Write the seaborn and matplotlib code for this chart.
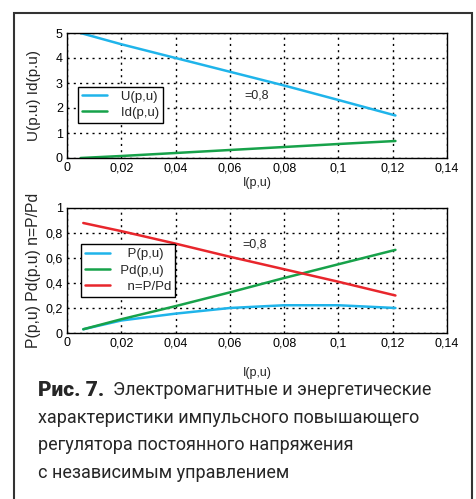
import numpy as np
import pandas as pd
import matplotlib
matplotlib.use("Agg")
import matplotlib.pyplot as plt
import seaborn as sns
from matplotlib.patches import Rectangle

# top chart
i_top = [0.005, 0.02, 0.04, 0.06, 0.08, 0.1, 0.121]
u_vals = [5.0, 4.55, 4.0, 3.45, 2.9, 2.32, 1.7]
id_vals = [0.0, 0.08, 0.2, 0.32, 0.44, 0.56, 0.68]

# bottom chart
i_bot = [0.006, 0.02, 0.04, 0.06, 0.08, 0.1, 0.121]
p_vals = [0.03, 0.1, 0.155, 0.2, 0.222, 0.222, 0.2]
pd_vals = [0.03, 0.11, 0.215, 0.325, 0.44, 0.55, 0.665]
n_vals = [0.88, 0.815, 0.715, 0.61, 0.51, 0.41, 0.3]

x_ticks = [0, 0.02, 0.04, 0.06, 0.08, 0.1, 0.12, 0.14]
x_labels = ["0", "0,02", "0,04", "0,06", "0,08", "0,1", "0,12", "0,14"]
y_top_ticks = [0, 1, 2, 3, 4, 5]
y_top_labels = ["0", "1", "2", "3", "4", "5"]
y_bot_ticks = [0, 0.2, 0.4, 0.6, 0.8, 1.0]
y_bot_labels = ["0", "0,2", "0,4", "0,6", "0,8", "1"]

caption_lines = [
    "Электромагнитные и энергетические",
    "характеристики импульсного повышающего",
    "регулятора постоянного напряжения",
    "с независимым управлением",
]

blue = "#1fb4ea"
green = "#17a24a"
red = "#e8262c"

sns.set_style("white")
plt.rcParams["font.family"] = ["Liberation Sans", "DejaVu Sans"]

fig = plt.figure(figsize=(4.77, 4.99), dpi=100)
fig.patches.append(Rectangle((14 / 477, -0.01), 458 / 477, 1 - 13 / 499 + 0.01,
                             transform=fig.transFigure, fill=False,
                             edgecolor="#333333", linewidth=1.5))

ax1 = fig.add_axes([67 / 477, 1 - 158 / 499, 380 / 477, 125 / 499])
ax2 = fig.add_axes([67 / 477, 1 - 333 / 499, 380 / 477, 125 / 499])

sns.lineplot(x=i_top, y=u_vals, ax=ax1, color=blue, lw=1.8, label="   U(p,u)")
sns.lineplot(x=i_top, y=id_vals, ax=ax1, color=green, lw=1.8, label="   Id(p,u)")

sns.lineplot(x=i_bot, y=p_vals, ax=ax2, color=blue, lw=1.8, label="    P(p,u)")
sns.lineplot(x=i_bot, y=pd_vals, ax=ax2, color=green, lw=1.8, label="  Pd(p,u)")
sns.lineplot(x=i_bot, y=n_vals, ax=ax2, color=red, lw=1.8, label="    n=P/Pd")

for ax, yt, yl in [(ax1, y_top_ticks, y_top_labels), (ax2, y_bot_ticks, y_bot_labels)]:
    ax.set_xlim(0, 0.14)
    ax.set_ylim(yt[0], yt[-1])
    ax.set_xticks(x_ticks)
    ax.set_xticklabels(x_labels)
    ax.set_yticks(yt)
    ax.set_yticklabels(yl)
    ax.grid(True, color="black", linestyle=(0, (1.5, 3)), linewidth=1)
    ax.tick_params(direction="in", length=3, labelsize=9, pad=3, colors="black")
    for s in ax.spines.values():
        s.set_color("black")
        s.set_linewidth(1)

ax1.set_xlabel("I(p,u)", fontsize=9, labelpad=2)
ax2.set_xlabel("I(p,u)", fontsize=9, labelpad=13)

ax1.set_ylabel("U(p.u) Id(p.u)", fontsize=11)
ax2.set_ylabel("P(p,u) Pd(p.u) n=P/Pd", fontsize=11.3)
ax1.yaxis.set_label_coords(-0.068, 0.5)
ax2.yaxis.set_label_coords(-0.068, 0.5)

ax1.text(0.0655, 2.52, "=0,8", fontsize=9, va="center")
ax2.text(0.0645, 0.71, "=0,8", fontsize=9, va="center")

for ax, loc in [(ax1, (0.03, 0.28)), (ax2, (0.037, 0.29))]:
    leg = ax.legend(loc="lower left", bbox_to_anchor=loc, fontsize=9.5, frameon=True,
                    fancybox=False, framealpha=1, edgecolor="black",
                    borderpad=0.3, handlelength=1.9, handletextpad=0.2, labelspacing=0.3,
                    borderaxespad=0)
    leg.get_frame().set_linewidth(1)

# caption
cap_font = ["Roboto", "DejaVu Sans"]
fig.text(38 / 477, 1 - 390 / 499, "Рис. 7.", fontsize=15, fontweight="heavy",
         family=cap_font, va="center")
fig.text(113 / 477, 1 - 390 / 499, caption_lines[0], fontsize=13,
         family=cap_font, va="center")
for k, line in enumerate(caption_lines[1:]):
    fig.text(38 / 477, 1 - (418 + 27.3 * k) / 499, line, fontsize=13,
             family=cap_font, va="center")

fig.savefig("out.png", dpi=100)
